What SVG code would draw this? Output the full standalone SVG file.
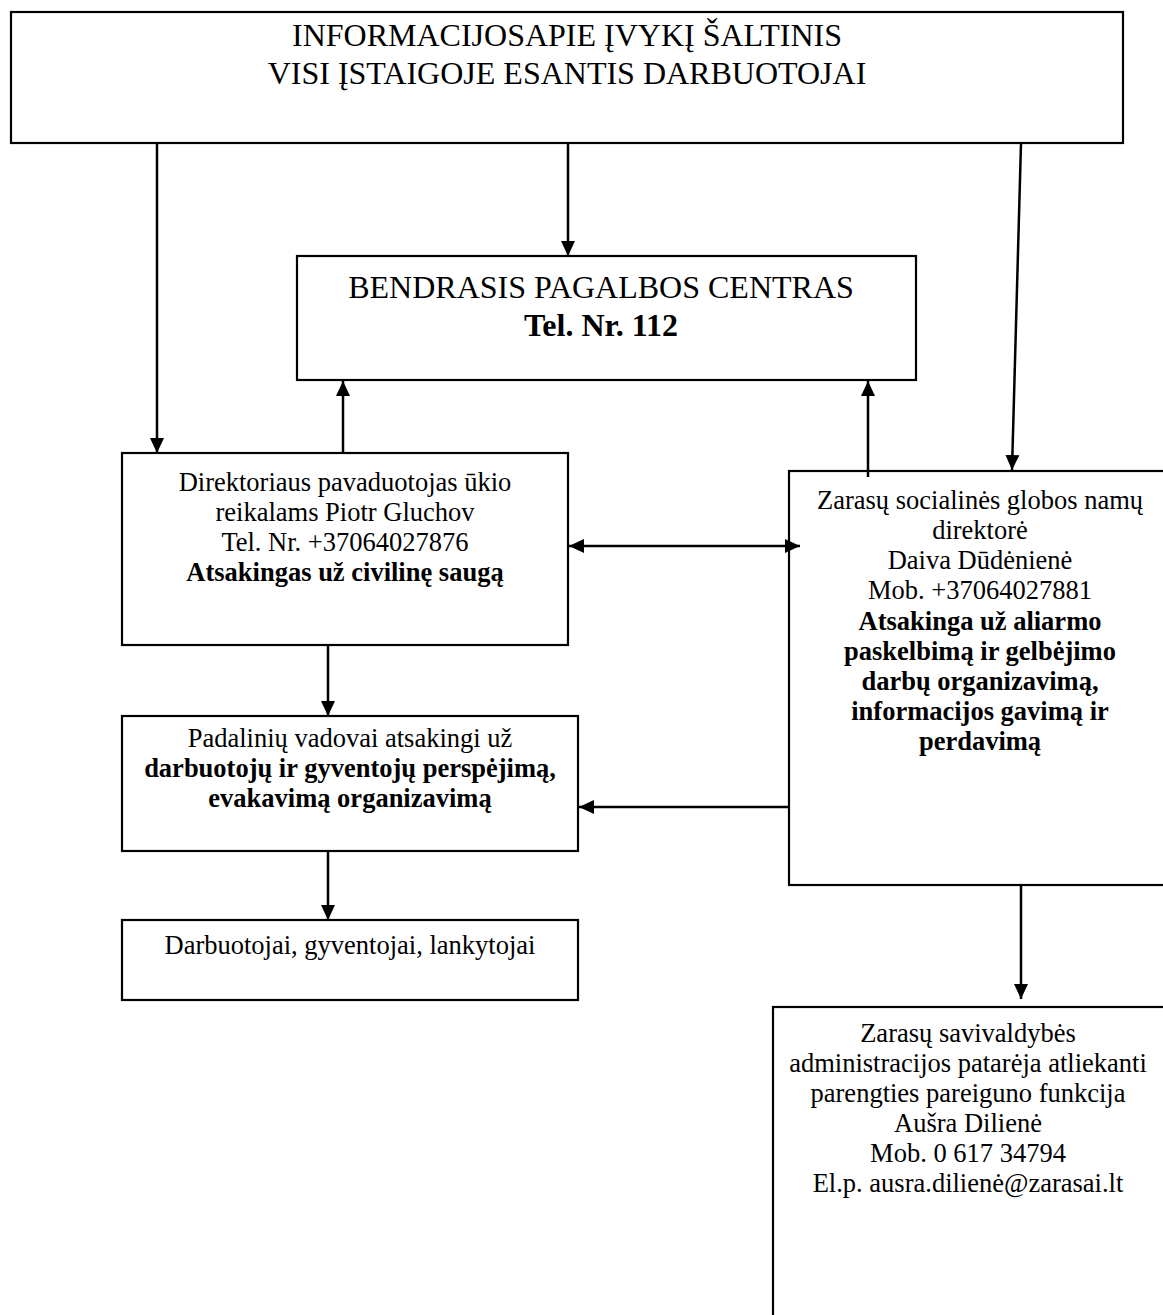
<svg xmlns="http://www.w3.org/2000/svg" width="1163" height="1315" viewBox="0 0 1163 1315">
<style>
.box{fill:#fff;stroke:#000;stroke-width:2.2}
.t{font-family:"Liberation Serif","Times New Roman",serif;fill:#000;text-anchor:middle}
.big{font-size:32px}
.n{font-size:26.5px}
.b{font-weight:bold}
.c{fill:none;stroke:#000;stroke-width:2.5}
</style>
<defs>
<marker id="ah" markerUnits="userSpaceOnUse" markerWidth="16" markerHeight="16" viewBox="0 0 16 16" refX="15" refY="8" orient="auto-start-reverse">
<path d="M0,1 L15,8 L0,15 z" fill="#000"/>
</marker>
</defs>
<rect width="1163" height="1315" fill="#fff"/>
<g id="n-source">
<rect class="box" x="11" y="12" width="1112" height="131"/>
<text class="t big" x="567" y="46">INFORMACIJOSAPIE ĮVYKĮ ŠALTINIS</text>
<text class="t big" x="567" y="84">VISI ĮSTAIGOJE ESANTIS DARBUOTOJAI</text>
</g>
<g id="n-center">
<rect class="box" x="297" y="256" width="619" height="124"/>
<text class="t big" x="601" y="298">BENDRASIS PAGALBOS CENTRAS</text>
<text class="t big b" x="601" y="336">Tel. Nr. 112</text>
</g>
<g id="n-deputy">
<rect class="box" x="122" y="453" width="446" height="192"/>
<text class="t n" x="345" y="491">Direktoriaus pavaduotojas ūkio</text>
<text class="t n" x="345" y="521">reikalams Piotr Gluchov</text>
<text class="t n" x="345" y="551">Tel. Nr. +37064027876</text>
<text class="t n b" x="345" y="581">Atsakingas už civilinę saugą</text>
</g>
<g id="n-director">
<rect class="box" x="789" y="471" width="390" height="414"/>
<text class="t n" x="980" y="509">Zarasų socialinės globos namų</text>
<text class="t n" x="980" y="539">direktorė</text>
<text class="t n" x="980" y="569">Daiva Dūdėnienė</text>
<text class="t n" x="980" y="599">Mob. +37064027881</text>
<text class="t n b" x="980" y="630">Atsakinga už aliarmo</text>
<text class="t n b" x="980" y="660">paskelbimą ir gelbėjimo</text>
<text class="t n b" x="980" y="690">darbų organizavimą,</text>
<text class="t n b" x="980" y="720">informacijos gavimą ir</text>
<text class="t n b" x="980" y="750">perdavimą</text>
</g>
<g id="n-heads">
<rect class="box" x="122" y="716" width="456" height="135"/>
<text class="t n" x="350" y="747">Padalinių vadovai atsakingi už</text>
<text class="t n b" x="350" y="777">darbuotojų ir gyventojų perspėjimą,</text>
<text class="t n b" x="350" y="807">evakavimą organizavimą</text>
</g>
<g id="n-people">
<rect class="box" x="122" y="920" width="456" height="80"/>
<text class="t n" x="350" y="954">Darbuotojai, gyventojai, lankytojai</text>
</g>
<g id="n-municipality">
<rect class="box" x="773" y="1007" width="400" height="320"/>
<text class="t n" x="968" y="1042">Zarasų savivaldybės</text>
<text class="t n" x="968" y="1072">administracijos patarėja atliekanti</text>
<text class="t n" x="968" y="1102">parengties pareiguno funkcija</text>
<text class="t n" x="968" y="1132">Aušra Dilienė</text>
<text class="t n" x="968" y="1162">Mob. 0 617 34794</text>
<text class="t n" x="968" y="1192">El.p. ausra.dilienė@zarasai.lt</text>
</g>
<g id="connectors">
<path class="c" d="M157,143 L157,453" marker-end="url(#ah)"/>
<path class="c" d="M568,143 L568,256" marker-end="url(#ah)"/>
<path class="c" d="M1021,143 L1012,470" marker-end="url(#ah)"/>
<path class="c" d="M343,453 L343,381" marker-end="url(#ah)"/>
<path class="c" d="M868,477 L868,381" marker-end="url(#ah)"/>
<path class="c" d="M569,546 L800,546" marker-start="url(#ah)" marker-end="url(#ah)"/>
<path class="c" d="M328,645 L328,716" marker-end="url(#ah)"/>
<path class="c" d="M789,807 L579,807" marker-end="url(#ah)"/>
<path class="c" d="M328,851 L328,920" marker-end="url(#ah)"/>
<path class="c" d="M1021,885 L1021,999" marker-end="url(#ah)"/>
</g>
</svg>
